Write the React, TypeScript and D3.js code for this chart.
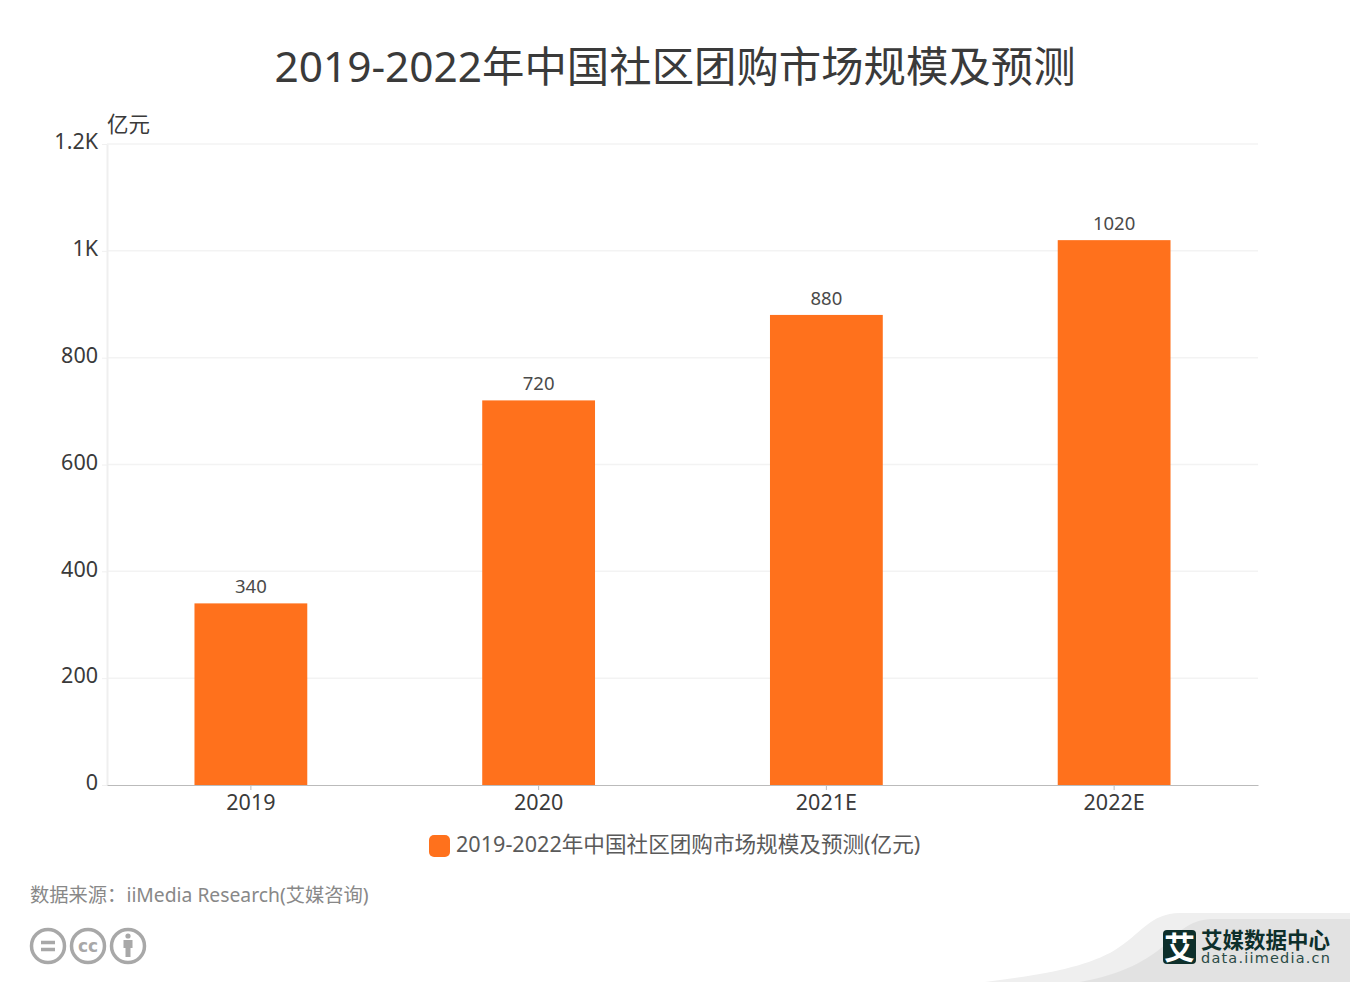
import React, { useEffect, useRef } from 'react';
import * as d3 from 'd3';

const categories = ['2019', '2020', '2021E', '2022E'];
const marketSize = [340, 720, 880, 1020];
const yTicks = [0, 200, 400, 600, 800, 1000, 1200];

const TITLE = '2019-2022年中国社区团购市场规模及预测';
const LEGEND = '2019-2022年中国社区团购市场规模及预测(亿元)';
const UNIT = '亿元';
const SOURCE = '数据来源\uFF1AiiMedia Research(艾媒咨询)';
const BRAND = '艾媒数据中心';
const BRAND_URL = 'data.iimedia.cn';

const FONT = '"Noto Sans", "Noto Sans CJK SC", sans-serif';
const ORANGE = '#ff711c';

const width = 1350;
const height = 982;
const margin = { top: 144, right: 92, bottom: 197, left: 107 };

const formatTick = (d: number) => (d >= 1000 ? `${d / 1000}K` : `${d}`);

const App: React.FC = () => {
  const ref = useRef<SVGSVGElement>(null);

  useEffect(() => {
    const svg = d3.select(ref.current);
    svg.selectAll('*').remove();

    const x = d3.scaleBand<string>()
      .domain(categories)
      .range([margin.left, width - margin.right])
      .paddingInner(0.608)
      .paddingOuter(0.304);

    const y = d3.scaleLinear()
      .domain([0, 1200])
      .range([height - margin.bottom, margin.top]);

    // Title
    svg.append('text')
      .attr('x', 675)
      .attr('y', 82)
      .attr('text-anchor', 'middle')
      .attr('font-size', 42.4)
      .attr('fill', '#3a3a3a')
      .text(TITLE);

    // Grid
    svg.append('g')
      .selectAll('line')
      .data(yTicks.slice(1))
      .join('line')
      .attr('x1', margin.left)
      .attr('x2', width - margin.right)
      .attr('y1', d => y(d))
      .attr('y2', d => y(d))
      .attr('stroke', '#f3f3f3')
      .attr('stroke-width', 1.5);

    // Y axis
    const yAxis = svg.append('g')
      .attr('transform', `translate(${margin.left},0)`)
      .call(d3.axisLeft(y).tickValues(yTicks).tickFormat(d => formatTick(+d)).tickSize(5).tickSizeOuter(0).tickPadding(4));
    yAxis.select('.domain').attr('stroke', '#efefef').attr('stroke-width', 2);
    yAxis.selectAll('.tick line').attr('stroke', '#f0f0f0');
    yAxis.selectAll('.tick text')
      .attr('font-family', FONT)
      .attr('font-size', 21.5)
      .attr('dy', '0.22em')
      .attr('fill', '#3a3a3a');

    svg.append('text')
      .attr('x', 107)
      .attr('y', 132)
      .attr('font-size', 21.5)
      .attr('fill', '#3a3a3a')
      .text(UNIT);

    // Bars
    svg.append('g')
      .selectAll('rect')
      .data(marketSize)
      .join('rect')
      .attr('x', (_, i) => x(categories[i])!)
      .attr('y', d => y(d))
      .attr('width', x.bandwidth())
      .attr('height', d => y(0) - y(d))
      .attr('fill', ORANGE);

    // Value labels
    svg.append('g')
      .selectAll('text')
      .data(marketSize)
      .join('text')
      .attr('x', (_, i) => x(categories[i])! + x.bandwidth() / 2)
      .attr('y', d => y(d) - 10)
      .attr('text-anchor', 'middle')
      .attr('font-size', 18.5)
      .attr('fill', '#4a4a4a')
      .text(d => d);

    // X axis
    const xAxis = svg.append('g')
      .attr('transform', `translate(0,${y(0)})`)
      .call(d3.axisBottom(x).tickSize(5).tickSizeOuter(0).tickPadding(5));
    xAxis.select('.domain').attr('stroke', '#bbb').attr('stroke-width', 1.2);
    xAxis.selectAll('.tick line').attr('stroke', '#bbb');
    xAxis.selectAll('.tick text')
      .attr('font-family', FONT)
      .attr('font-size', 21.5)
      .attr('fill', '#3a3a3a');

    // Legend
    svg.append('rect')
      .attr('x', 429)
      .attr('y', 835)
      .attr('width', 21)
      .attr('height', 22)
      .attr('rx', 5)
      .attr('fill', ORANGE);
    svg.append('text')
      .attr('x', 456)
      .attr('y', 852)
      .attr('font-size', 21.6)
      .attr('fill', '#5a5a5a')
      .text(LEGEND);

    // Source
    svg.append('text')
      .attr('x', 30)
      .attr('y', 902)
      .attr('font-size', 19.3)
      .attr('fill', '#888')
      .text(SOURCE);

    // Licence badges
    const badges = svg.append('g')
      .attr('fill', 'none')
      .attr('stroke', '#a8a8a8')
      .attr('stroke-width', 3.5);
    [48, 88, 128].forEach(cx => badges.append('circle').attr('cx', cx).attr('cy', 946).attr('r', 16.5));
    badges.append('path').attr('d', 'M41 942.5H55M41 949.5H55');
    svg.append('text')
      .attr('x', 88)
      .attr('y', 952)
      .attr('text-anchor', 'middle')
      .attr('font-family', '"DejaVu Sans", sans-serif')
      .attr('font-size', 17)
      .attr('font-weight', 700)
      .attr('fill', '#a8a8a8')
      .text('cc');
    svg.append('circle').attr('cx', 128).attr('cy', 936).attr('r', 2.6).attr('fill', '#a8a8a8');
    svg.append('path').attr('d', 'M123.5 940H132.5V948H130.5V957H125.5V948H123.5Z').attr('fill', '#a8a8a8');

    // Corner swoosh and logo
    svg.append('path')
      .attr('d', 'M985 982C1040 975 1085 968 1115 950C1140 935 1150 913 1180 913H1350V982Z')
      .attr('fill', '#efefef');
    svg.append('path')
      .attr('d', 'M1080 982C1120 975 1150 960 1170 940C1185 926 1195 919 1215 919H1350V982Z')
      .attr('fill', '#e2e2e2');
    svg.append('rect')
      .attr('x', 1163)
      .attr('y', 930)
      .attr('width', 33)
      .attr('height', 34)
      .attr('rx', 4)
      .attr('fill', '#0d2f2b');
    svg.append('text')
      .attr('x', 1179.5)
      .attr('y', 959)
      .attr('text-anchor', 'middle')
      .attr('font-family', '"Noto Sans CJK SC", sans-serif')
      .attr('font-size', 31)
      .attr('font-weight', 700)
      .attr('fill', '#fff')
      .text('艾');
    svg.append('text')
      .attr('x', 1201)
      .attr('y', 948)
      .attr('font-family', '"Noto Sans CJK SC", sans-serif')
      .attr('font-size', 21.5)
      .attr('font-weight', 700)
      .attr('fill', '#0d2f2b')
      .text(BRAND);
    svg.append('text')
      .attr('x', 1201)
      .attr('y', 963)
      .attr('font-family', '"DejaVu Sans", sans-serif')
      .attr('font-size', 14.5)
      .attr('textLength', 129)
      .attr('fill', '#2a4a46')
      .text(BRAND_URL);
  }, []);

  return (
    <svg
      ref={ref}
      width={width}
      height={height}
      style={{ position: 'absolute', left: 0, top: 0, fontFamily: FONT, background: '#fff' }}
    />
  );
};

export default App;
